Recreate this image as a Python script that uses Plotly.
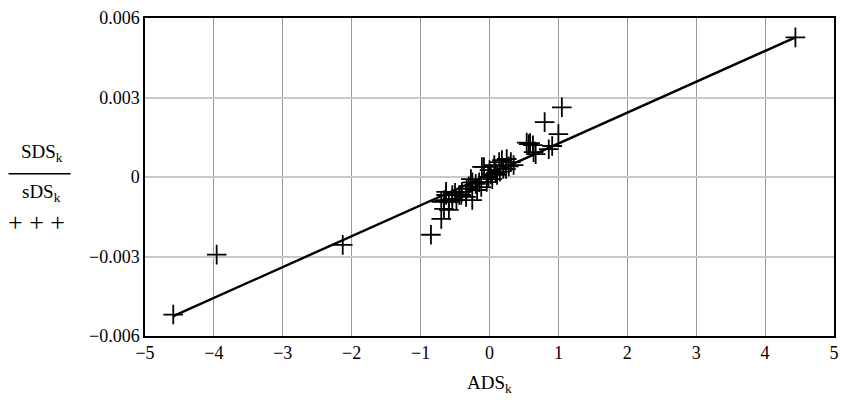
import plotly.graph_objects as go

# Scatter data (ADS_k, SDS_k / sDS_k)
ads = [4.44, -4.59, -3.96, -2.13, 1.05, 0.80, 1.00, 0.59, 0.54, 0.63, 0.86, 0.91, 0.67,
       -0.85, -0.70, -0.66, -0.59, -0.63, -0.54, -0.41, -0.25, -0.25, -0.08,
       -0.63, -0.70, -0.54, -0.44, -0.34, -0.27, -0.20, -0.11, 0.00, 0.07, 0.14,
       0.18, 0.25, 0.31, 0.24, 0.11, 0.04, -0.04, -0.12, -0.18, -0.33, -0.40,
       -0.48, -0.59, -0.66, 0.64, 0.57, 0.20, 0.28, -0.02, 0.02, -0.15, 0.09,
       -0.30, -0.50, 0.15, 0.35]
sds = [0.00527, -0.00519, -0.00293, -0.00256, 0.00263, 0.00207, 0.00162, 0.00128, 0.00130,
       0.00120, 0.00105, 0.00117, 0.00086,
       -0.00218, -0.00158, -0.00120, -0.00124, -0.00068, -0.00083, -0.00068, -0.00087,
       -0.00020, 0.00038,
       -0.00056, -0.00094, -0.00068, -0.00068, -0.00075, -0.00008, -0.00026, 0.00038,
       0.00026, 0.00045, 0.00056, 0.00064, 0.00068, 0.00056, 0.00030, 0.00008,
       -0.00008, -0.00019, -0.00038, -0.00049, -0.00045, -0.00056, -0.00087,
       -0.00094, -0.00087, 0.00094, 0.00124, 0.00030, 0.00040, 0.00000, 0.00010,
       -0.00020, 0.00015, -0.00035, -0.00060, 0.00020, 0.00045]

# Fitted line endpoints
fit_x = [-4.59, 4.44]
fit_y = [-0.00525, 0.00527]

x_ticks = [-5, -4, -3, -2, -1, 0, 1, 2, 3, 4, 5]
x_ticktext = ["\u22125", "\u22124", "\u22123", "\u22122", "\u22121", "0", "1", "2", "3", "4", "5"]
y_ticks = [-0.006, -0.003, 0, 0.003, 0.006]
y_ticktext = ["\u22120.006", "\u22120.003", "0", "0.003", "0.006"]

FONT = "Liberation Serif"

fig = go.Figure()
fig.add_trace(go.Scatter(x=fit_x, y=fit_y, mode="lines",
                         line=dict(color="black", width=2.4), showlegend=False))
fig.add_trace(go.Scatter(x=ads, y=sds, mode="markers",
                         marker=dict(symbol="cross-thin", size=14, color="black",
                                     line=dict(width=1.8, color="black")),
                         showlegend=False))

fig.update_layout(
    width=847, height=403,
    margin=dict(l=145, r=8, t=12, b=67),
    paper_bgcolor="white", plot_bgcolor="white",
    font=dict(family=FONT, size=18, color="black"),
    xaxis=dict(range=[-5, 5], tickvals=x_ticks, ticktext=x_ticktext,
               showgrid=True, gridcolor="#999999", gridwidth=1,
               zeroline=False, showline=True, mirror=True, linecolor="black", linewidth=1.5,
               ticks="", tickfont=dict(family=FONT, size=18)),
    yaxis=dict(range=[-0.006, 0.006], tickvals=y_ticks, ticktext=y_ticktext,
               showgrid=True, gridcolor="#c8c8c8", gridwidth=1.5,
               zeroline=False, showline=True, mirror=True, linecolor="black", linewidth=1.5,
               ticks="", tickfont=dict(family=FONT, size=18)),
    annotations=[
        dict(text="ADS<sub>k</sub>", xref="paper", yref="paper", x=0.50, y=-0.15,
             xanchor="center", yanchor="middle", showarrow=False,
             font=dict(family=FONT, size=19)),
        dict(text="SDS<sub>k</sub>", xref="paper", x=-0.150, yref="paper", y=0.574,
             xanchor="center", yanchor="middle", showarrow=False,
             font=dict(family=FONT, size=19)),
        dict(text="sDS<sub>k</sub>", xref="paper", x=-0.150, yref="paper", y=0.450,
             xanchor="center", yanchor="middle", showarrow=False,
             font=dict(family=FONT, size=19)),
        dict(text="+ + +", xref="paper", x=-0.157, yref="paper", y=0.358,
             xanchor="center", yanchor="middle", showarrow=False,
             font=dict(family=FONT, size=26)),
    ],
    shapes=[dict(type="line", xref="paper", yref="paper", x0=-0.198, x1=-0.108,
                 y0=0.510, y1=0.510, line=dict(color="black", width=1.5))],
)

fig.write_html("out.html", config={"displayModeBar": False},
               post_script="document.body.style.margin='0';")
